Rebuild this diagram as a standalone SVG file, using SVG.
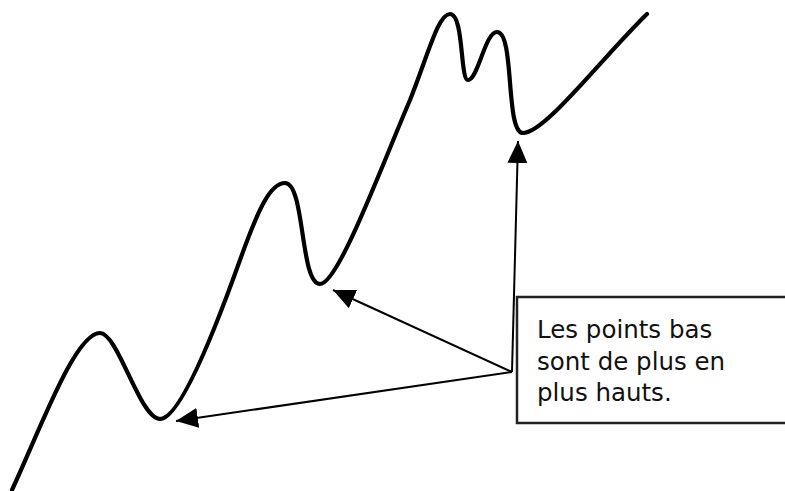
<svg xmlns="http://www.w3.org/2000/svg" width="785" height="491" viewBox="0 0 785 491">
<defs>
<marker id="ah" markerUnits="userSpaceOnUse" markerWidth="24" markerHeight="22" refX="22" refY="10" orient="auto">
<path d="M0,0 L22,10 L0,20 Z" fill="#000"/>
</marker>
<style>
.curve{fill:none;stroke:#000;stroke-width:4.2;stroke-linecap:round;stroke-linejoin:round}
.conn{fill:none;stroke:#000;stroke-width:2}
.box{fill:#fff;stroke:#222;stroke-width:2.5}
.lbl{font-family:"DejaVu Sans",Verdana,sans-serif;font-size:24.5px;fill:#111}
</style>
</defs>
<rect width="785" height="491" fill="#fff"/>
<g id="curve">
<path class="curve" d="M12,490 C40,430 75,333 100,333 C118,333 140,419 160,419 C180,419 215,330 240,260 C258,210 270,183 285,183 C305,183 300,284 320,284 C338,284 380,170 410,100 C428,55 438,14 450,14 C464,14 460,80 468,80 C478,80 485,32 497,32 C515,32 505,133 523,133 C545,133 600,60 647,14"/>
</g>
<g id="label">
<rect class="box" x="517" y="297" width="280" height="126"/>
<text class="lbl" x="537" y="338">Les points bas</text>
<text class="lbl" x="537" y="370">sont de plus en</text>
<text class="lbl" x="537" y="401">plus hauts.</text>
</g>
<g id="connectors">
<line class="conn" x1="512" y1="372" x2="518" y2="141" marker-end="url(#ah)"/>
<line class="conn" x1="512" y1="372" x2="333" y2="290" marker-end="url(#ah)"/>
<line class="conn" x1="512" y1="372" x2="176" y2="421" marker-end="url(#ah)"/>
</g>
</svg>
